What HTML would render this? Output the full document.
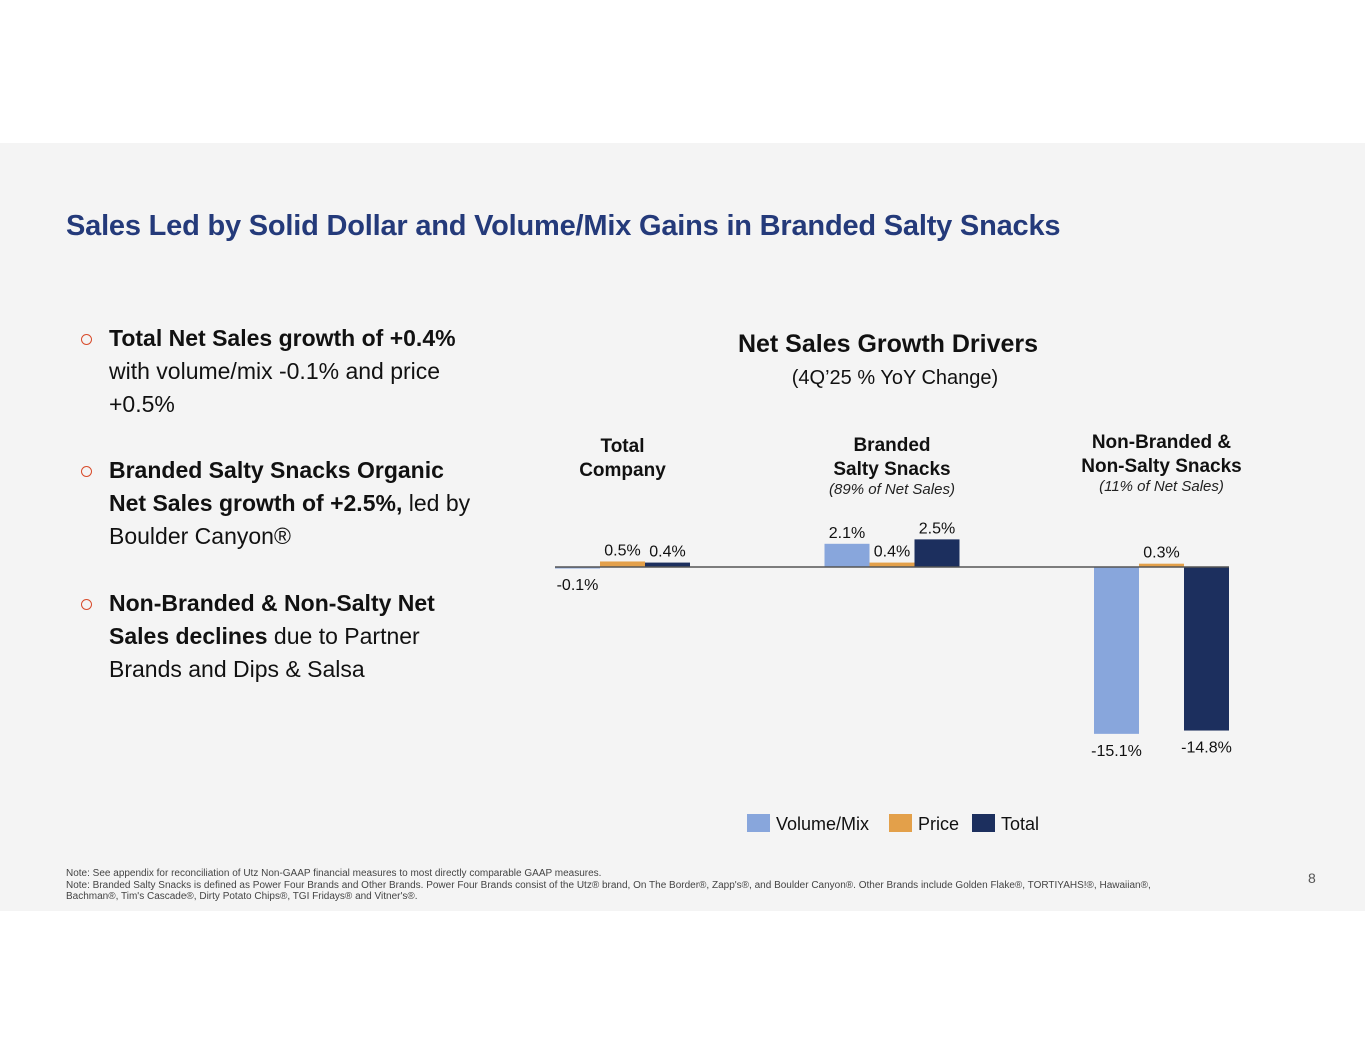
<!DOCTYPE html>
<html><head><meta charset="utf-8"><style>
body{margin:0;width:1365px;height:1055px;background:#fff;font-family:"Liberation Sans",sans-serif;position:relative;overflow:hidden}
.slide{position:absolute;left:0;top:143px;width:1365px;height:768px;background:#f4f4f4}
.abs{position:absolute}
.title{left:66px;top:210px;font-size:29px;font-weight:bold;color:#243a7a;letter-spacing:-0.2px;white-space:nowrap}
.bul{left:109px;font-size:23px;line-height:33px;color:#111;white-space:nowrap}
.bul .dot{position:absolute;left:-28px;top:12px;width:9px;height:9px;border:1.5px solid #d84b2b;border-radius:50%}
.note{left:66px;top:868px;font-size:10px;color:#444;line-height:11.5px;width:1150px}
</style></head><body>
<div class="slide"></div>
<div class="abs title">Sales Led by Solid Dollar and Volume/Mix Gains in Branded Salty Snacks</div>
<div class="abs bul" style="top:322px"><span class="dot"></span><b>Total Net Sales growth of +0.4%</b><br>with volume/mix -0.1% and price<br>+0.5%</div>
<div class="abs bul" style="top:454px"><span class="dot"></span><b>Branded Salty Snacks Organic<br>Net Sales growth of +2.5%,</b> led by<br>Boulder Canyon®</div>
<div class="abs bul" style="top:587px"><span class="dot"></span><b>Non-Branded &amp; Non-Salty Net<br>Sales declines</b> due to Partner<br>Brands and Dips &amp; Salsa</div>
<div class="abs note">Note: See appendix for reconciliation of Utz Non-GAAP financial measures to most directly comparable GAAP measures.<br>Note: Branded Salty Snacks is defined as Power Four Brands and Other Brands. Power Four Brands consist of the Utz® brand, On The Border®, Zapp's®, and Boulder Canyon®. Other Brands include Golden Flake®, TORTIYAHS!®, Hawaiian®,<br>Bachman®, Tim's Cascade®, Dirty Potato Chips®, TGI Fridays® and Vitner's®.</div>
<div class="abs" style="left:1308px;top:870px;font-size:14px;color:#555">8</div>
<svg class="abs" style="left:0;top:0" width="1365" height="1055" id="chart"></svg>
<script>
const categories=["Total Company","Branded Salty Snacks","Non-Branded & Non-Salty Snacks"];
const volumeMix=[-0.1,2.1,-15.1];
const price=[0.5,0.4,0.3];
const total=[0.4,2.5,-14.8];
const seriesNames=["Volume/Mix","Price","Total"];
const colors=["#88a6dc","#e3a04a","#1c2f5e"];
const svg=document.getElementById('chart');
const NS='http://www.w3.org/2000/svg';
const zeroY=567, pxPer=11.05, groupX0=555, groupStep=269.5, barW=45;
const y=v=>zeroY-v*pxPer;
function mk(t,a,txt){const e=document.createElementNS(NS,t);for(const k in a)e.setAttribute(k,a[k]);if(txt!==undefined)e.textContent=txt;svg.appendChild(e);return e;}
const F='"Liberation Sans",sans-serif';
let t=mk('text',{x:888,y:352,'text-anchor':'middle','font-size':25,'font-weight':'bold','font-family':F,fill:'#111'},'Net Sales Growth Drivers');

t=mk('text',{x:895,y:384,'text-anchor':'middle','font-size':20,'font-family':F,fill:'#111'},'(4Q\u201925 % YoY Change)');

const heads=[[["Total",452],["Company",476]],[["Branded",451],["Salty Snacks",475]],[["Non-Branded &",448],["Non-Salty Snacks",472]]];
const subs=[null,["(89% of Net Sales)",494],["(11% of Net Sales)",491]];
const series=[volumeMix,price,total];
categories.forEach((c,i)=>{
  const cx=groupX0+i*groupStep+barW*1.5;
  heads[i].forEach(h=>{const e=mk('text',{x:cx,y:h[1],'text-anchor':'middle','font-size':19,'font-weight':'bold','font-family':F,fill:'#111'},h[0]);
  });
  if(subs[i]){const e=mk('text',{x:cx,y:subs[i][1],'text-anchor':'middle','font-size':15,'font-style':'italic','font-family':F,fill:'#222'},subs[i][0]);
  }
  series.forEach((s,j)=>{
    const v=s[i],x=groupX0+i*groupStep+j*barW;
    const top=Math.min(y(v),zeroY),h=Math.max(Math.abs(y(v)-zeroY),1.5);
    const r=mk('rect',{x:x,y:top,width:barW,height:h,fill:colors[j]});
    
    
    const lbl=(v<0?'-':'')+Math.abs(v).toFixed(1)+'%';
    let ly=v>=0?y(v)-6:y(v)+22;
    if(v<0&&Math.abs(v)<1)ly=zeroY+23;
    const l=mk('text',{x:x+barW/2,y:ly,'text-anchor':'middle','font-size':16,'font-family':F,fill:'#111'},lbl);
    
  });
});
const ax=mk('line',{x1:groupX0,x2:groupX0+2*groupStep+3*barW,y1:zeroY,y2:zeroY,stroke:'#555','stroke-width':1.5});

const lx=[747,889,972];
seriesNames.forEach((n,j)=>{
  const r=mk('rect',{x:lx[j],y:814,width:23,height:18,fill:colors[j]});
  
  const e=mk('text',{x:lx[j]+29,y:830,'font-size':18,'font-family':F,fill:'#111'},n);
  
});
</script>
</body></html>
